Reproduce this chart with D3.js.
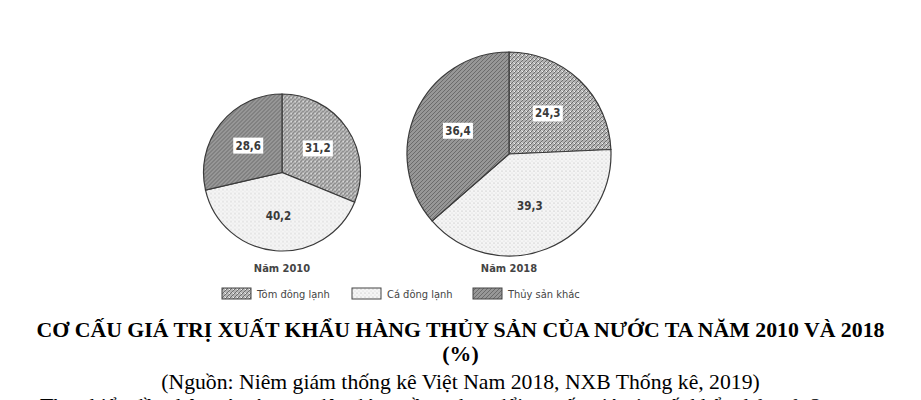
<!DOCTYPE html>
<html>
<head>
<meta charset="utf-8">
<script src="https://cdn.jsdelivr.net/npm/d3@7"></script>
<style>
html,body{margin:0;padding:0;background:#fff;}
svg{display:block;}
</style>
</head>
<body>
<svg id="chart" width="921" height="400"></svg>
<script>
const years = ["Năm 2010", "Năm 2018"];
const categories = ["Tôm đông lạnh", "Cá đông lạnh", "Thủy sản khác"];
const values2010 = [31.2, 40.2, 28.6];
const values2018 = [24.3, 39.3, 36.4];
const seriesValues = [values2010, values2018];
const title = "CƠ CẤU GIÁ TRỊ XUẤT KHẨU HÀNG THỦY SẢN CỦA NƯỚC TA NĂM 2010 VÀ 2018";
const unit = "(%)";
const source = "(Nguồn: Niêm giám thống kê Việt Nam 2018, NXB Thống kê, 2019)";
const question = "Theo biểu đồ, nhận xét nào sau đây đúng về sự thay đổi cơ cấu giá trị xuất khẩu thủy sản?";

const svg = d3.select("#chart");
const defs = svg.append("defs");

// patterns
const pTom = defs.append("pattern").attr("id","pTom").attr("patternUnits","userSpaceOnUse").attr("width",4).attr("height",4);
pTom.append("rect").attr("width",4).attr("height",4).attr("fill","#b4b4b4");
pTom.append("path").attr("d","M0,4 L4,0 M-1,1 L1,-1 M3,5 L5,3").attr("stroke","#6e6e6e").attr("stroke-width",1);
pTom.append("path").attr("d","M0.5,0.5 L2,2").attr("stroke","#f4f4f4").attr("stroke-width",1);

const pCa = defs.append("pattern").attr("id","pCa").attr("patternUnits","userSpaceOnUse").attr("width",4).attr("height",4);
pCa.append("rect").attr("width",4).attr("height",4).attr("fill","#f5f5f5");
pCa.append("circle").attr("cx",1).attr("cy",1).attr("r",0.6).attr("fill","#b4b4b4");
pCa.append("circle").attr("cx",3).attr("cy",3).attr("r",0.5).attr("fill","#cfcfcf");

const pKhac = defs.append("pattern").attr("id","pKhac").attr("patternUnits","userSpaceOnUse").attr("width",4).attr("height",4);
pKhac.append("rect").attr("width",4).attr("height",4).attr("fill","#979797");
pKhac.append("path").attr("d","M0,4 L4,0 M-1,1 L1,-1 M3,5 L5,3").attr("stroke","#666").attr("stroke-width",0.9);

const fills = ["url(#pTom)", "url(#pCa)", "url(#pKhac)"];
const boxed = [true, false, true];

const pies = [
  {cx: 282, cy: 172.5, r: 78.5},
  {cx: 509, cy: 154, r: 102}
];

const pie = d3.pie().sort(null).value(d => d);
const fmt = v => d3.format(".1f")(v).replace(".", ",");
const sansC = "'DejaVu Sans Condensed', 'Liberation Sans Narrow', Arial, sans-serif";

pies.forEach((p, i) => {
  const g = svg.append("g").attr("transform", `translate(${p.cx},${p.cy})`);
  const arc = d3.arc().innerRadius(0).outerRadius(p.r);
  const labelArc = d3.arc().innerRadius(p.r * 0.55).outerRadius(p.r * 0.55);
  const arcs = pie(seriesValues[i]);
  g.selectAll("path.slice").data(arcs).join("path")
    .attr("class","slice")
    .attr("d", arc)
    .attr("fill", (d, j) => fills[j])
    .attr("stroke", "#3a3a3a")
    .attr("stroke-width", 1.2);
  const lab = g.selectAll("g.lab").data(arcs).join("g")
    .attr("class","lab")
    .attr("transform", d => `translate(${labelArc.centroid(d)})`);
  lab.filter((d, j) => boxed[j]).append("rect")
    .attr("x", -15).attr("y", -8).attr("width", 30).attr("height", 16)
    .attr("fill", "#fff");
  lab.append("text")
    .attr("text-anchor","middle")
    .attr("dy", "0.35em")
    .attr("font-family", sansC)
    .attr("font-size", 11.5)
    .attr("font-weight", "bold")
    .attr("fill", "#3a3a3a")
    .text(d => fmt(d.data));
  svg.append("text")
    .attr("x", p.cx).attr("y", 272)
    .attr("text-anchor","middle")
    .attr("font-family", sansC)
    .attr("font-size", 11)
    .attr("font-weight", "bold")
    .attr("fill", "#444")
    .text(years[i]);
});

// legend
const legendX = [222, 352, 473];
const lg = svg.append("g");
categories.forEach((c, j) => {
  lg.append("rect").attr("x", legendX[j]).attr("y", 288).attr("width", 29).attr("height", 11)
    .attr("fill", fills[j]).attr("stroke", "#444").attr("stroke-width", 1);
  lg.append("text").attr("x", legendX[j] + 35).attr("y", 298)
    .attr("font-family", sansC)
    .attr("font-size", 11)
    .attr("fill", "#444")
    .text(c);
});

// titles
const serif = "'Liberation Serif', 'Times New Roman', serif";
svg.append("text").attr("x", 460.5).attr("y", 337)
  .attr("text-anchor","middle")
  .attr("font-family", serif)
  .attr("font-weight","bold").attr("font-size", 21.8)
  .attr("fill","#000")
  .text(title);
svg.append("text").attr("x", 460.5).attr("y", 361)
  .attr("text-anchor","middle")
  .attr("font-family", serif)
  .attr("font-weight","bold").attr("font-size", 21.8)
  .attr("fill","#000")
  .text(unit);
svg.append("text").attr("x", 460.5).attr("y", 389)
  .attr("text-anchor","middle")
  .attr("font-family", serif)
  .attr("font-size", 21.7)
  .attr("fill","#000")
  .text(source);
svg.append("text").attr("x", 40).attr("y", 413)
  .attr("font-family", serif)
  .attr("font-size", 21.7)
  .attr("fill","#000")
  .text(question);
</script>
</body>
</html>
